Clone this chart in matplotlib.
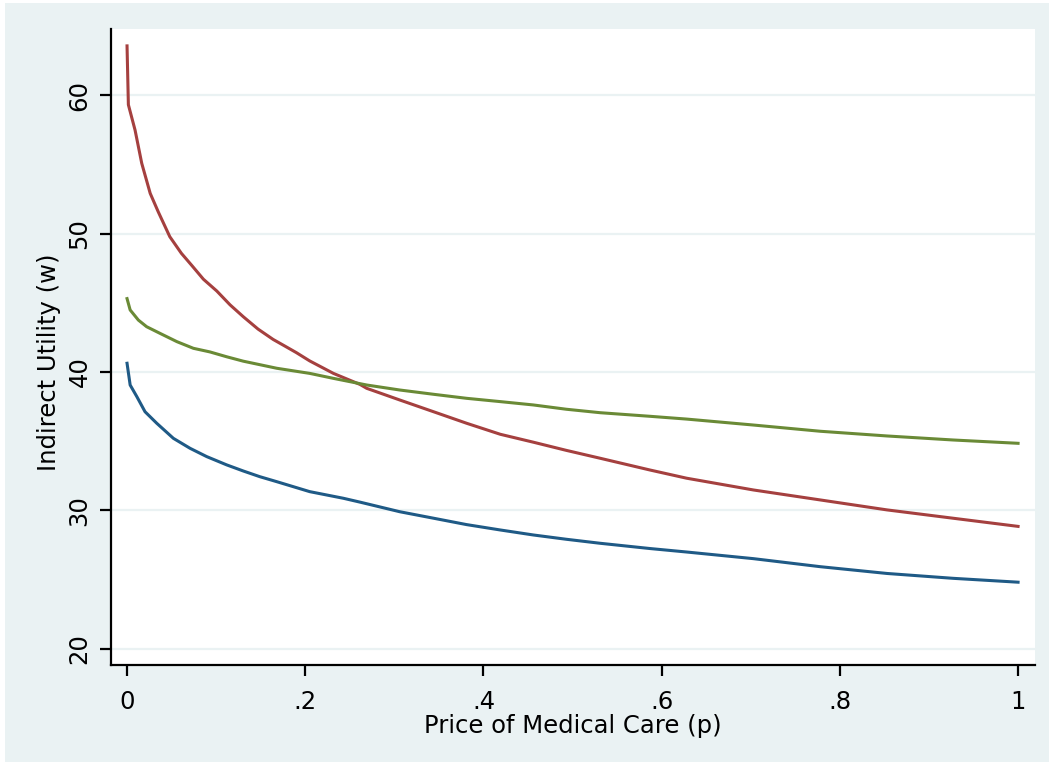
import matplotlib
matplotlib.use("Agg")
import matplotlib.pyplot as plt
from matplotlib.patches import Rectangle

# price of medical care (p) and indirect utility for three groups
p_red = [0.0, 0.0015, 0.009, 0.0165, 0.026, 0.035, 0.048, 0.061, 0.0726, 0.0857,
         0.1007, 0.1156, 0.1305, 0.147, 0.164, 0.175, 0.19, 0.205, 0.2316, 0.2615,
         0.269, 0.306, 0.344, 0.381, 0.419, 0.456, 0.493, 0.531, 0.587, 0.628,
         0.703, 0.778, 0.853, 0.927, 1.0]
w_red = [63.55, 59.3, 57.47, 55.07, 52.9, 51.57, 49.77, 48.57, 47.7, 46.7,
         45.85, 44.85, 43.99, 43.1, 42.35, 41.95, 41.4, 40.8, 39.9, 39.1,
         38.82, 37.98, 37.13, 36.3, 35.5, 34.93, 34.34, 33.77, 32.92, 32.33,
         31.48, 30.76, 30.04, 29.44, 28.85]

p_green = [0.0, 0.0035, 0.0127, 0.022, 0.037, 0.056, 0.0745, 0.093, 0.1118, 0.1305,
           0.168, 0.205, 0.2316, 0.269, 0.306, 0.344, 0.381, 0.419, 0.456, 0.493,
           0.531, 0.587, 0.628, 0.703, 0.778, 0.853, 0.927, 1.0]
w_green = [45.3, 44.48, 43.75, 43.27, 42.79, 42.19, 41.71, 41.45, 41.1, 40.78,
           40.27, 39.9, 39.54, 39.06, 38.7, 38.39, 38.1, 37.86, 37.62, 37.31,
           37.06, 36.8, 36.6, 36.17, 35.72, 35.38, 35.09, 34.85]

p_blue = [0.0, 0.0035, 0.011, 0.0202, 0.0333, 0.052, 0.0707, 0.0894, 0.1119, 0.1305,
          0.149, 0.168, 0.205, 0.2428, 0.2616, 0.306, 0.344, 0.381, 0.419, 0.456,
          0.493, 0.531, 0.587, 0.628, 0.703, 0.778, 0.853, 0.927, 1.0]
w_blue = [40.63, 39.06, 38.22, 37.13, 36.3, 35.21, 34.49, 33.89, 33.29, 32.85,
          32.44, 32.08, 31.36, 30.88, 30.6, 29.91, 29.44, 28.98, 28.59, 28.23,
          27.92, 27.63, 27.25, 27.0, 26.52, 25.94, 25.45, 25.1, 24.82]

yticks = [20, 30, 40, 50, 60]
xticks = [0, 0.2, 0.4, 0.6, 0.8, 1.0]
xticklabels = ["0", ".2", ".4", ".6", ".8", "1"]

bg = "#eaf2f3"

fig = plt.figure(figsize=(10.49, 7.65), dpi=100)
fig.patch.set_facecolor("white")
fig.patches.append(Rectangle((5 / 1049, 3 / 765), 1 - 5 / 1049, 1 - 6 / 765,
                             transform=fig.transFigure, facecolor=bg,
                             edgecolor="none", zorder=-10))

ax = fig.add_axes([111 / 1049, 1 - 665 / 765, (1035 - 111) / 1049, (665 - 29) / 765])
ax.set_facecolor("white")

ax.plot(p_blue, w_blue, color="#1f5a86", lw=2.2, zorder=3)
ax.plot(p_red, w_red, color="#a5403f", lw=2.2, zorder=3)
ax.plot(p_green, w_green, color="#6a8a36", lw=2.2, zorder=3)

ax.set_xlim(-0.018, 1.019)
ax.set_ylim(18.84, 64.77)

ax.set_yticks(yticks)
ax.set_yticklabels([str(v) for v in yticks], rotation=90, va="center")
ax.set_xticks(xticks)
ax.set_xticklabels(xticklabels)

ax.grid(axis="y", color=bg, lw=1.6, zorder=0)
ax.set_axisbelow(True)

for s in ["top", "right"]:
    ax.spines[s].set_visible(False)
for s in ["left", "bottom"]:
    ax.spines[s].set_linewidth(1.6)
    ax.spines[s].set_color("black")

ax.tick_params(axis="both", direction="out", length=8, width=1.6,
               labelsize=17.5, colors="black")
ax.tick_params(axis="x", pad=10)
ax.tick_params(axis="y", pad=6)

ax.set_xlabel("Price of Medical Care (p)", fontsize=17.5, labelpad=0)
ax.set_ylabel("Indirect Utility (w)", fontsize=17.5)
ax.yaxis.set_label_coords(-0.054, 0.476)

fig.savefig("out.png", dpi=100, facecolor=fig.get_facecolor())
